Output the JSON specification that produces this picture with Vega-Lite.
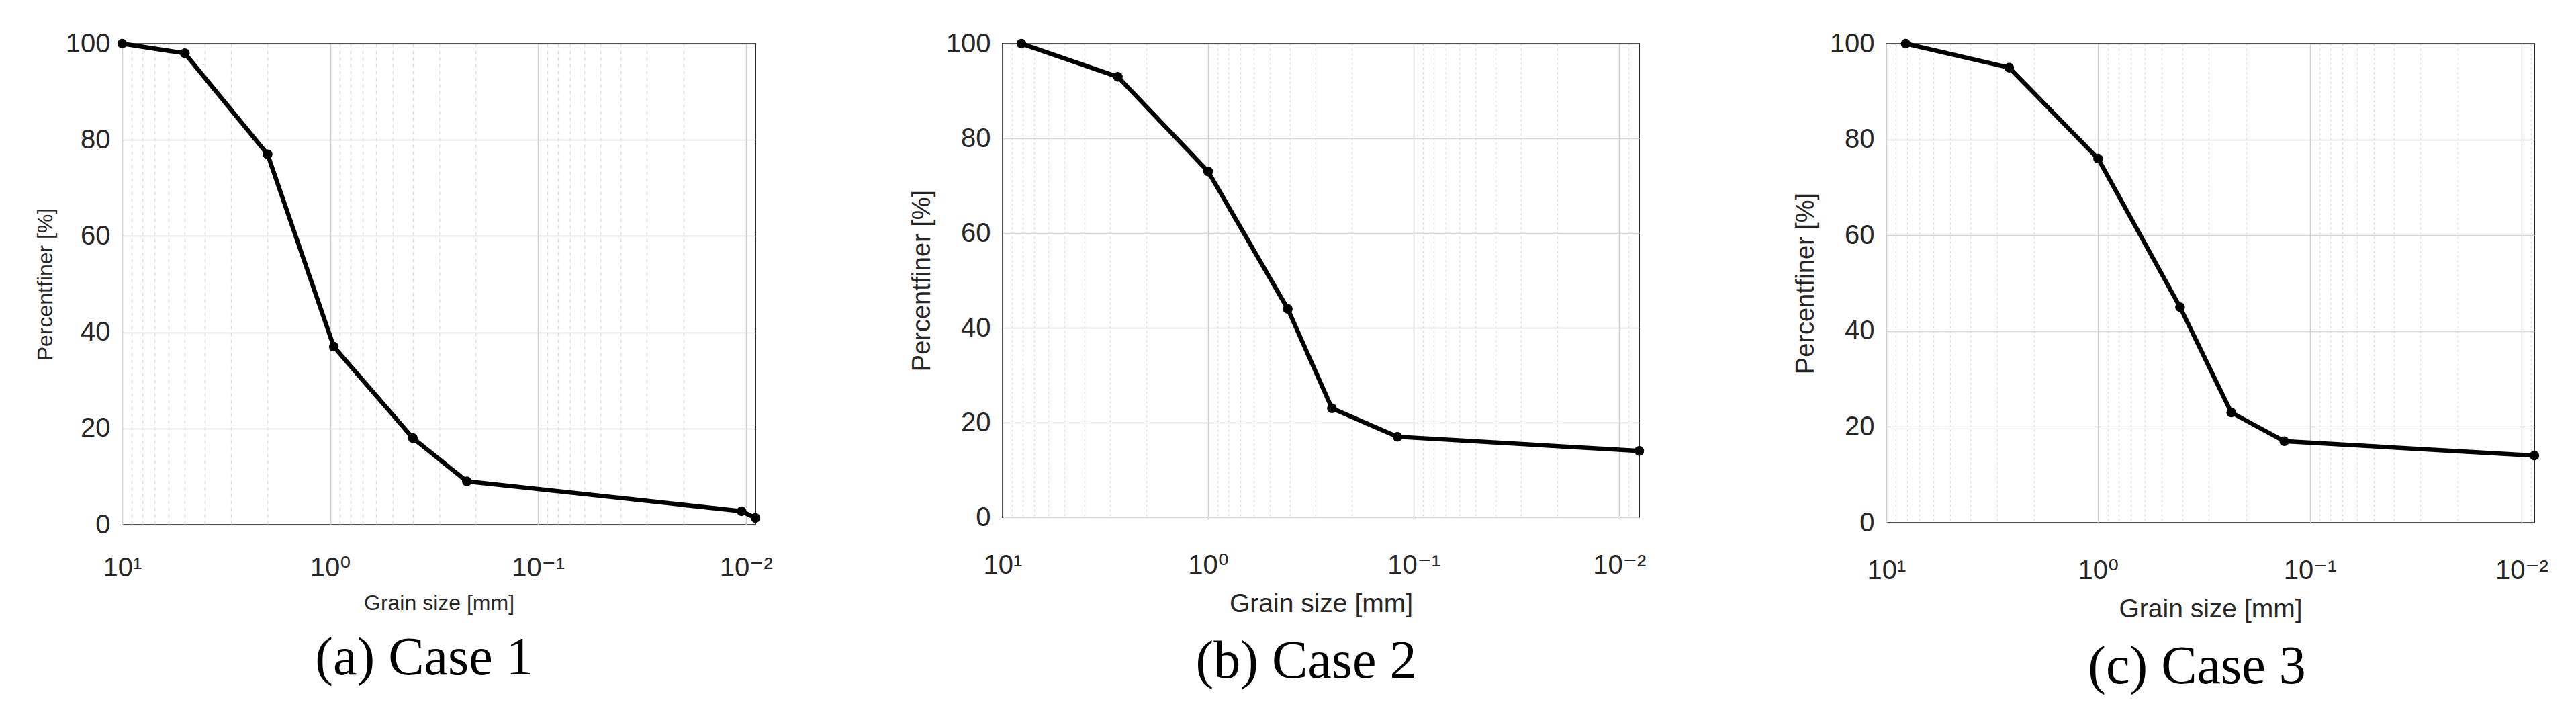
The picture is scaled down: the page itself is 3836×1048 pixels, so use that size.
{
  "$schema": "https://vega.github.io/schema/vega-lite/v6.json",
  "padding": {"left": 50, "top": 44, "right": 10, "bottom": 5},
  "background": "white",
  "datasets": {
    "grain": [
      {"case": 1, "size": 10, "pct": 100},
      {"case": 1, "size": 5, "pct": 98},
      {"case": 1, "size": 2, "pct": 77},
      {"case": 1, "size": 0.96, "pct": 37},
      {"case": 1, "size": 0.4, "pct": 18},
      {"case": 1, "size": 0.22, "pct": 9},
      {"case": 1, "size": 0.0105, "pct": 2.8},
      {"case": 1, "size": 0.009, "pct": 1.4},
      {"case": 2, "size": 8.1, "pct": 100},
      {"case": 2, "size": 2.75, "pct": 93},
      {"case": 2, "size": 1.0, "pct": 73},
      {"case": 2, "size": 0.41, "pct": 44},
      {"case": 2, "size": 0.25, "pct": 23},
      {"case": 2, "size": 0.12, "pct": 17},
      {"case": 2, "size": 0.008, "pct": 14},
      {"case": 3, "size": 8.1, "pct": 100},
      {"case": 3, "size": 2.63, "pct": 95},
      {"case": 3, "size": 1.0, "pct": 76},
      {"case": 3, "size": 0.41, "pct": 45},
      {"case": 3, "size": 0.235, "pct": 23},
      {"case": 3, "size": 0.132, "pct": 17},
      {"case": 3, "size": 0.0087, "pct": 14}
    ]
  },
  "spacing": 368,
  "bounds": "flush",
  "hconcat": [
    {
      "width": 943,
      "height": 716,
      "title": {"text": "(a) Case 1", "dx": -22, "offset": 28},
      "data": {"name": "grain"},
      "transform": [{"filter": "datum.case == 1"}],
      "encoding": {
        "x": {
          "field": "size", "type": "quantitative",
          "scale": {"type": "log", "domain": [0.009, 10], "reverse": true, "nice": false},
          "axis": {
            "values": [10,9,8,7,6,5,4,3,2,1,0.9,0.8,0.7,0.6,0.5,0.4,0.3,0.2,0.1,0.09,0.08,0.07,0.06,0.05,0.04,0.03,0.02,0.01],
            "labelExpr": "datum.value == 10 ? '10¹' : datum.value == 1 ? '10⁰' : datum.value == 0.1 ? '10⁻¹' : datum.value == 0.01 ? '10⁻²' : ''",
            "title": "Grain size [mm]",
            "titleFontSize": 32,
            "labelFontSize": 40,
            "labelPadding": 44,
            "titlePadding": 17,
            "labelOverlap": false,
            "labelFlush": false,
            "gridDash": {"condition": {"test": "indexof([10,1,0.1,0.01], datum.value) >= 0", "value": []}, "value": [5, 5]},
            "gridColor": {"condition": {"test": "indexof([10,1,0.1,0.01], datum.value) >= 0", "value": "#cfcfcf"}, "value": "#dedede"}
          }
        },
        "y": {
          "field": "pct", "type": "quantitative",
          "scale": {"domain": [0, 100], "nice": false},
          "axis": {
            "values": [0, 20, 40, 60, 80, 100],
            "title": "Percentfiner [%]",
            "titleFontSize": 32,
            "labelFontSize": 40,
            "labelPadding": 18,
            "titlePadding": 13
          }
        }
      },
      "layer": [
        {"mark": {"type": "line", "color": "#000000", "strokeWidth": 6.5}},
        {"mark": {"type": "point", "filled": true, "color": "#000000", "size": 210, "opacity": 1}}
      ]
    },
    {
      "width": 948,
      "height": 705,
      "title": {"text": "(b) Case 2", "dx": -22, "offset": 28},
      "data": {"name": "grain"},
      "transform": [{"filter": "datum.case == 2"}],
      "encoding": {
        "x": {
          "field": "size", "type": "quantitative",
          "scale": {"type": "log", "domain": [0.008, 10], "reverse": true, "nice": false},
          "axis": {
            "values": [10,9,8,7,6,5,4,3,2,1,0.9,0.8,0.7,0.6,0.5,0.4,0.3,0.2,0.1,0.09,0.08,0.07,0.06,0.05,0.04,0.03,0.02,0.01,0.009],
            "labelExpr": "datum.value == 10 ? '10¹' : datum.value == 1 ? '10⁰' : datum.value == 0.1 ? '10⁻¹' : datum.value == 0.01 ? '10⁻²' : ''",
            "title": "Grain size [mm]",
            "titleFontSize": 39,
            "labelFontSize": 40,
            "labelPadding": 51,
            "titlePadding": 18,
            "labelOverlap": false,
            "labelFlush": false,
            "gridDash": {"condition": {"test": "indexof([10,1,0.1,0.01], datum.value) >= 0", "value": []}, "value": [3, 4]},
            "gridColor": {"condition": {"test": "indexof([10,1,0.1,0.01], datum.value) >= 0", "value": "#cfcfcf"}, "value": "#dedede"}
          }
        },
        "y": {
          "field": "pct", "type": "quantitative",
          "scale": {"domain": [0, 100], "nice": false},
          "axis": {
            "values": [0, 20, 40, 60, 80, 100],
            "title": "Percentfiner [%]",
            "titleFontSize": 38,
            "labelFontSize": 40,
            "labelPadding": 18,
            "titlePadding": 16
          }
        }
      },
      "layer": [
        {"mark": {"type": "line", "color": "#000000", "strokeWidth": 6.5}},
        {"mark": {"type": "point", "filled": true, "color": "#000000", "size": 210, "opacity": 1}}
      ]
    },
    {
      "width": 965,
      "height": 713,
      "title": {"text": "(c) Case 3", "dx": -20, "offset": 28},
      "data": {"name": "grain"},
      "transform": [{"filter": "datum.case == 3"}],
      "encoding": {
        "x": {
          "field": "size", "type": "quantitative",
          "scale": {"type": "log", "domain": [0.0087, 10], "reverse": true, "nice": false},
          "axis": {
            "values": [10,9,8,7,6,5,4,3,2,1,0.9,0.8,0.7,0.6,0.5,0.4,0.3,0.2,0.1,0.09,0.08,0.07,0.06,0.05,0.04,0.03,0.02,0.01,0.009],
            "labelExpr": "datum.value == 10 ? '10¹' : datum.value == 1 ? '10⁰' : datum.value == 0.1 ? '10⁻¹' : datum.value == 0.01 ? '10⁻²' : ''",
            "title": "Grain size [mm]",
            "titleFontSize": 39,
            "labelFontSize": 40,
            "labelPadding": 51,
            "titlePadding": 18,
            "labelOverlap": false,
            "labelFlush": false,
            "gridDash": {"condition": {"test": "indexof([10,1,0.1,0.01], datum.value) >= 0", "value": []}, "value": [3, 4]},
            "gridColor": {"condition": {"test": "indexof([10,1,0.1,0.01], datum.value) >= 0", "value": "#cfcfcf"}, "value": "#dedede"}
          }
        },
        "y": {
          "field": "pct", "type": "quantitative",
          "scale": {"domain": [0, 100], "nice": false},
          "axis": {
            "values": [0, 20, 40, 60, 80, 100],
            "title": "Percentfiner [%]",
            "titleFontSize": 38,
            "labelFontSize": 40,
            "labelPadding": 18,
            "titlePadding": 16
          }
        }
      },
      "layer": [
        {"mark": {"type": "line", "color": "#000000", "strokeWidth": 6.5}},
        {"mark": {"type": "point", "filled": true, "color": "#000000", "size": 210, "opacity": 1}}
      ]
    }
  ],
  "config": {
    "view": {"stroke": "#262626", "strokeWidth": 2},
    "axis": {
      "labelFont": "Liberation Sans, DejaVu Sans",
      "labelColor": "#262626",
      "titleFont": "Liberation Sans",
      "titleColor": "#262626",
      "titleFontWeight": "normal",
      "domain": false,
      "ticks": false,
      "gridWidth": 1.5,
      "gridColor": "#d6d6d6"
    },
    "title": {
      "font": "Liberation Serif",
      "fontSize": 80,
      "fontWeight": "normal",
      "color": "#000000",
      "orient": "bottom",
      "anchor": "middle"
    }
  }
}
